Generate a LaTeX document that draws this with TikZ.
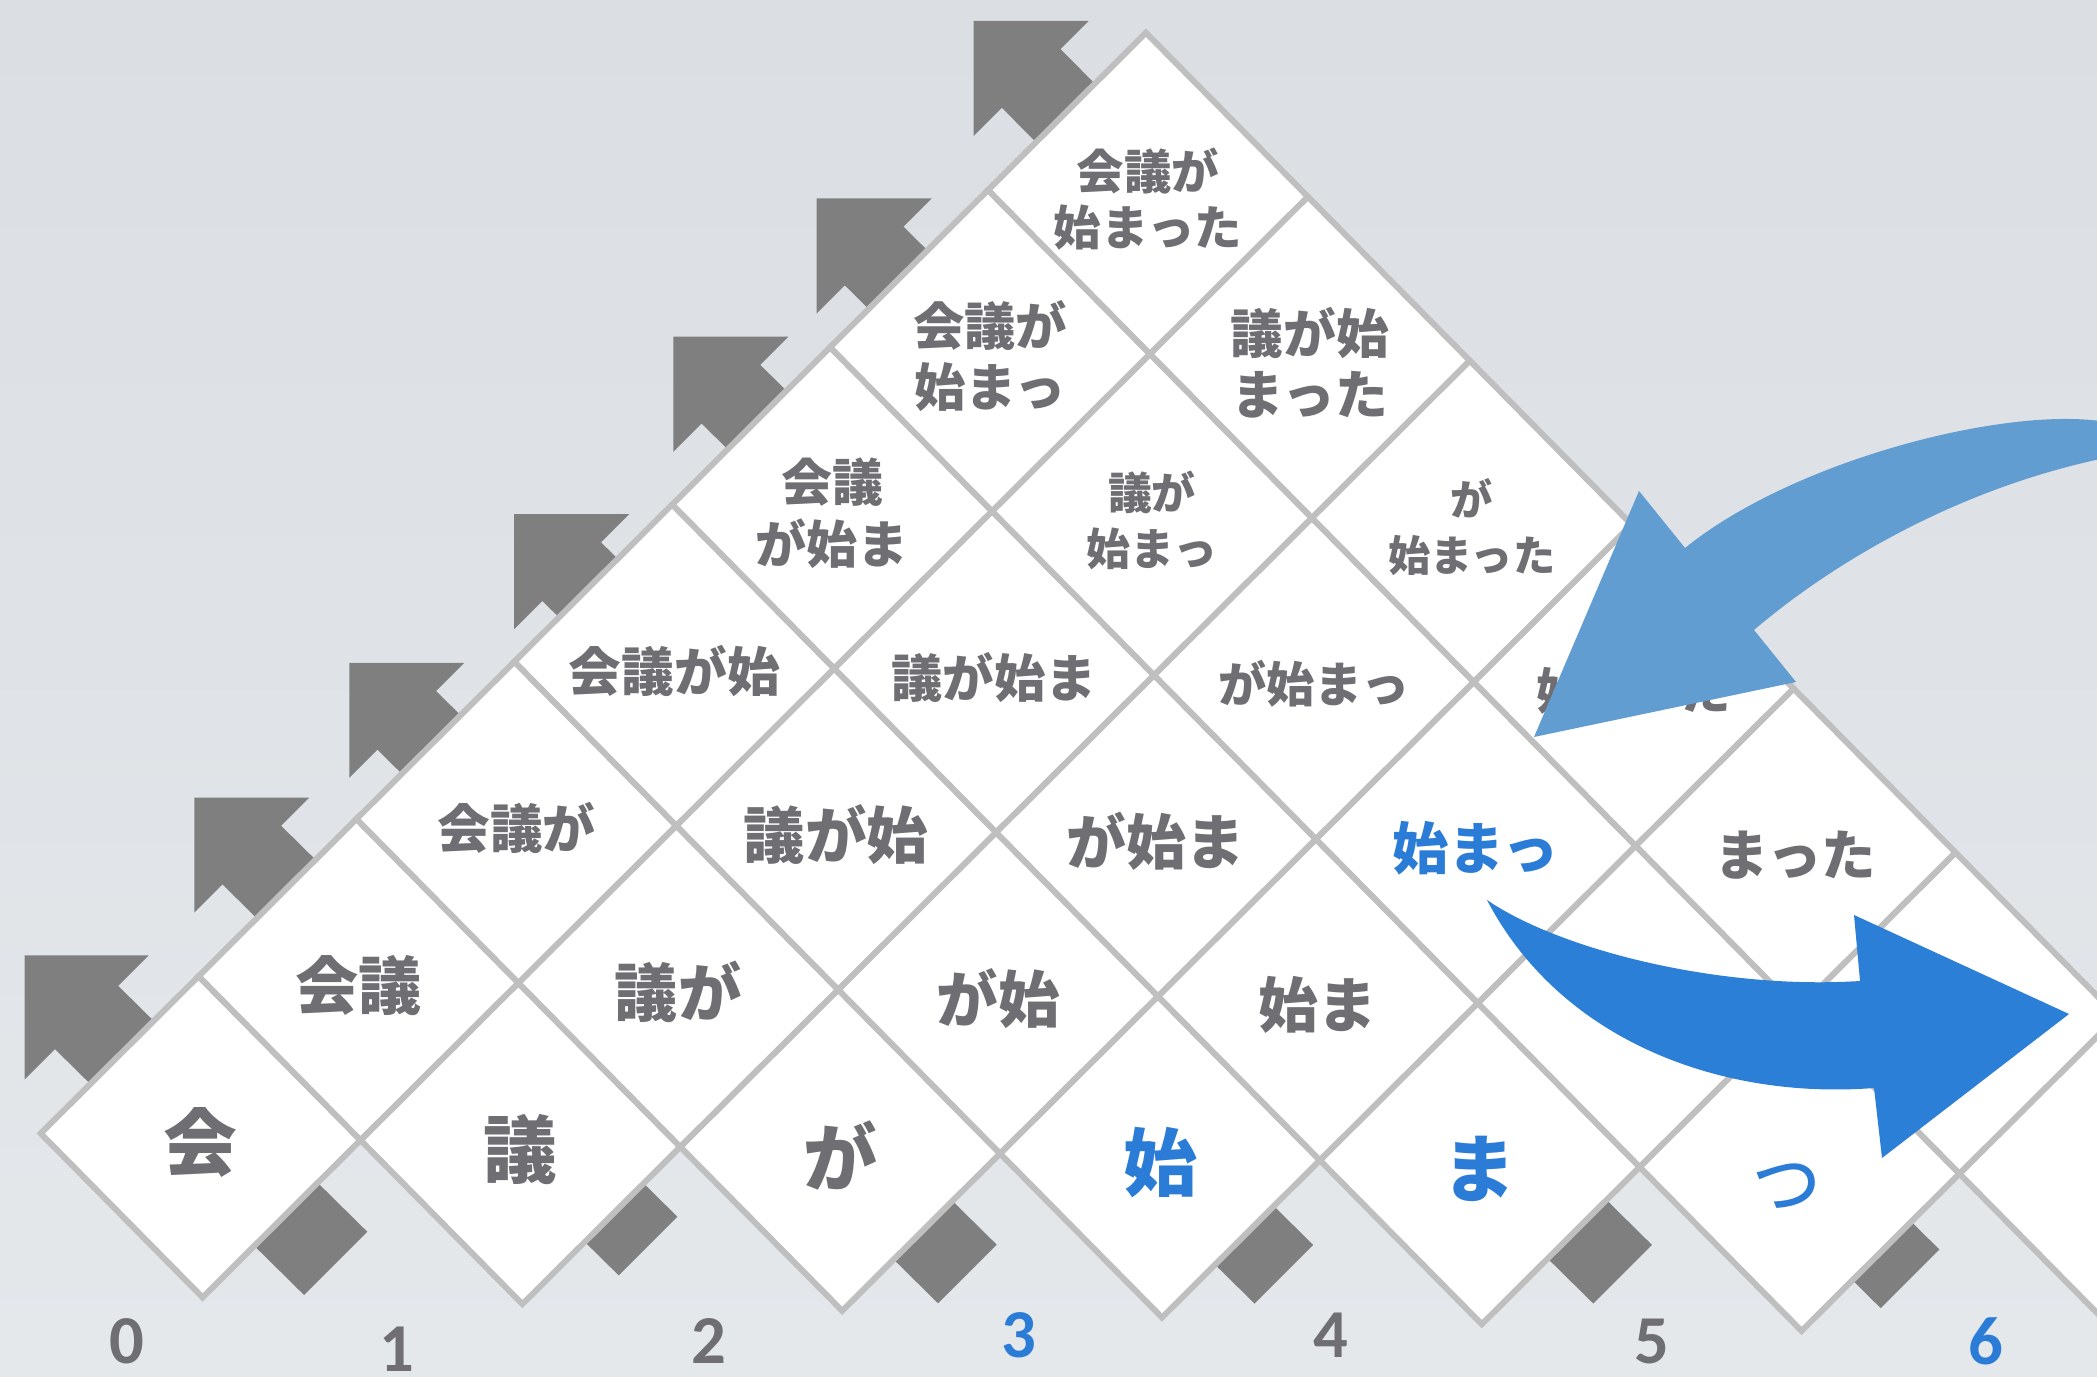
\documentclass[tikz,border=0pt]{standalone}
\usepackage{fontspec}
\newfontfamily\jpf{Noto Sans CJK JP}
\newfontfamily\numf{Carlito}
\definecolor{bgtop}{RGB}{219,222,227}
\definecolor{bgbot}{RGB}{228,232,235}
\definecolor{cellline}{RGB}{191,191,191}
\definecolor{txtgray}{RGB}{110,110,115}
\definecolor{txtblue}{RGB}{43,124,214}
\definecolor{arrgray}{RGB}{127,127,127}
\definecolor{lightblue}{RGB}{98,157,209}
\definecolor{darkblue}{RGB}{44,127,214}
% gray arrow: tip x, tip y, arm length, tail-end centre x, tail-end centre y
\newcommand\grayarrow[5]{\fill[arrgray] (#1,#2) -- ++(#3,0) -- ++({-0.245*#3},{0.245*#3})
  -- ({#4+0.255*#3},{#5-0.255*#3}) -- ({#4-0.255*#3},{#5+0.255*#3})
  -- ({#1+0.245*#3},{#2+0.755*#3}) -- (#1,{#2+#3}) -- cycle;}
\begin{document}
\begin{tikzpicture}[x=0.01cm,y=-0.01cm,
  cell/.style={fill=white,draw=cellline,line width=1.7pt,line join=miter},
  jt/.style n args={2}{inner sep=0pt,align=center,text=txtgray,yshift=-1.6pt,font=\jpf\bfseries\fontsize{#1pt}{#2pt}\selectfont},
  blue/.style={text=txtblue},
  num/.style={inner sep=0pt,text=txtgray,font=\numf\bfseries\fontsize{19.5pt}{22pt}\selectfont}]
\useasboundingbox (0,0) rectangle (2097,1377);
\clip (0,0) rectangle (2097,1377);
\shade[top color=bgtop,bottom color=bgbot] (0,0) rectangle (2097,1377);

% gray arrows behind the lattice
\grayarrow{24.6}{955.5}{124}{335.7}{1263.4}
\grayarrow{194.3}{797.6}{115}{648}{1246}
\grayarrow{349.3}{662.9}{115}{967.4}{1274}
\grayarrow{514.2}{514.2}{115}{1283.8}{1274.2}
\grayarrow{673.4}{336.7}{115}{1622.6}{1274.2}
\grayarrow{816.6}{198.5}{115}{1910}{1278.8}
\grayarrow{973.7}{21}{115}{2230}{1285}

\coordinate (O) at (200.6,1136.8);
\begin{scope}[shift={(O)}]
\begin{scope}[x={(1.598cm,-0.0335cm)},y={(-0.02cm,1.605cm)}]
% diamonds
\foreach \r in {1,...,7}{
  \pgfmathtruncatemacro\cmax{7-\r}
  \foreach \c in {0,...,\cmax}{
    \pgfmathsetmacro\cu{2*\c+\r-1}
    \pgfmathsetmacro\cv{\r-1}
    \draw[cell] (\cu-1,\cv) -- (\cu,\cv+1) -- (\cu+1,\cv) -- (\cu,\cv-1) -- cycle;
  }
}
% row 1
\node[jt={21}{25}] (a10) at (0,0) {会};
\node[jt={21}{25}] (a11) at (2,0) {議};
\node[jt={21}{25}] (a12) at (4,0) {が};
\node[jt={21}{25},blue] (a13) at (6,0) {始};
\node[jt={21}{25},blue] (a14) at (8,0) {ま};
\node[jt={24}{28},blue,font=\jpf\fontsize{24pt}{28pt}\selectfont,xshift=-0.14cm,yshift=-0.1cm] (a15) at (10,0) {っ};
% row 2
\node[jt={18}{22}] (a20) at (1,1) {会議};
\node[jt={18}{22}] (a21) at (3,1) {議が};
\node[jt={17.5}{21}] (a22) at (5,1) {が始};
\node[jt={17}{21}] (a23) at (7,1) {始ま};
% row 3
\node[jt={15}{18}] (a30) at (2,2) {会議が};
\node[jt={17.5}{21}] (a31) at (4,2) {議が始};
\node[jt={17}{21}] (a32) at (6,2) {が始ま};
\node[jt={16}{19}, blue] (a33) at (8,2) {始まっ};
\node[jt={15.5}{19}] (a34) at (10,2) {まった};
% row 4
\node[jt={15}{18}] (a40) at (3,3) {会議が始};
\node[jt={14.6}{18}] (a41) at (5,3) {議が始ま};
\node[jt={13.7}{17}] (a42) at (7,3) {が始まっ};
\node[jt={14}{17}] (a43) at (9,3) {始まった};
% row 5
\node[jt={14.5}{17.5}] (a50) at (4,4) {会議\\が始ま};
\node[jt={12.5}{16}] (a51) at (6,4) {議が\\始まっ};
\node[jt={12}{16}] (a52) at (8,4) {が\\始まった};
% row 6
\node[jt={14.6}{17.5}] (a60) at (5,5) {会議が\\始まっ};
\node[jt={15}{17.5}] (a61) at (7,5) {議が始\\まった};
% row 7
\node[jt={13.5}{16}] (a70) at (6,6) {会議が\\始まった};
\end{scope}
\end{scope}

% position labels
\node[num] (n0) at (127,1341) {0};
\node[num] (n1) at (397,1349) {1};
\node[num] (n2) at (709,1341) {2};
\node[num,text=txtblue] (n3) at (1019,1335) {3};
\node[num] (n4) at (1331,1335) {4};
\node[num] (n5) at (1652,1341) {5};
\node[num,text=txtblue] (n6) at (1986,1341) {6};

% light blue curved arrow
\fill[lightblue] (2120,425) .. controls (2030,400) and (1800,455) .. (1685,548)
  -- (1639,491) -- (1534,737) -- (1796,682) -- (1754,630)
  .. controls (1830,565) and (1960,485) .. (2120,455) -- cycle;
% dark blue curved arrow
\fill[darkblue] (1487,900) .. controls (1560,950) and (1720,990) .. (1860,981)
  -- (1854,915) -- (2069,1014) -- (1882,1158) -- (1874,1088)
  .. controls (1720,1100) and (1560,1040) .. (1487,900) -- cycle;
\end{tikzpicture}
\end{document}
